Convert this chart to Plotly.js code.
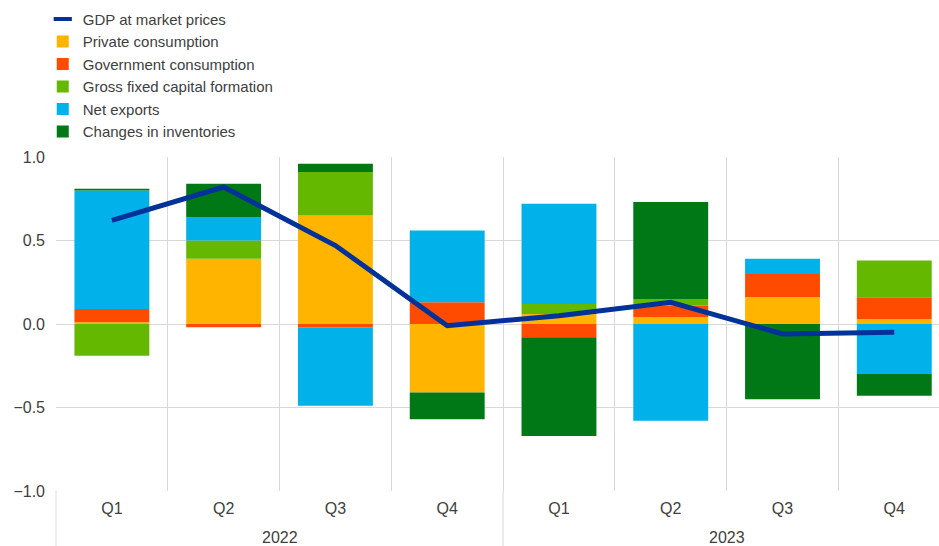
<!DOCTYPE html>
<html>
<head>
<meta charset="utf-8">
<script src="https://cdn.plot.ly/plotly-3.0.1.min.js"></script>
<style>
  html, body { margin: 0; padding: 0; background: #fff; }
  #plotArea { width: 939px; height: 546px; }
</style>
</head>
<body>
<div id="plotArea"></div>
<script>
// quarters and years for the x axis
var years = ["2022", "2022", "2022", "2022", "2023", "2023", "2023", "2023"];
var quarters = ["Q1", "Q2", "Q3", "Q4", "Q1", "Q2", "Q3", "Q4"];

// contributions, percentage points
var gdp = [0.62, 0.82, 0.47, -0.01, 0.05, 0.13, -0.06, -0.05];
var privateCons = [0.01, 0.39, 0.65, -0.41, 0.06, 0.04, 0.16, 0.03];
var govCons = [0.08, -0.02, -0.02, 0.13, -0.08, 0.07, 0.14, 0.13];
var gfcf = [-0.19, 0.11, 0.26, 0.0, 0.06, 0.04, 0.0, 0.22];
var netExports = [0.71, 0.14, -0.47, 0.43, 0.60, -0.58, 0.09, -0.30];
var inventories = [0.01, 0.20, 0.05, -0.16, -0.59, 0.58, -0.45, -0.13];

// one slot per quarter on a plain numeric axis
var idx = quarters.map(function(q, i) { return i; });
var xRange = [-0.5, 7.4];

// year groups: label in the middle, divider at the start of each group
var yearNames = [];
var yearStart = {};
var yearCount = {};
years.forEach(function(yr, i) {
    if (yearNames.indexOf(yr) < 0) {
        yearNames.push(yr);
        yearStart[yr] = i;
        yearCount[yr] = 0;
    }
    yearCount[yr]++;
});

var yearLabels = yearNames.map(function(yr) {
    return {
        x: yearStart[yr] + (yearCount[yr] - 1) / 2,
        xref: "x",
        y: 0,
        yref: "paper",
        yanchor: "top",
        yshift: -36,
        text: yr,
        showarrow: false,
        font: {size: 16, color: "#404040"}
    };
});

var dividers = yearNames.map(function(yr) {
    var bx = (yearStart[yr] - 0.5 - xRange[0]) / (xRange[1] - xRange[0]);
    return {
        type: "line",
        xref: "paper",
        yref: "paper",
        x0: bx,
        x1: bx,
        y0: 0,
        y1: -0.17,
        line: {color: "#d9d9d9", width: 1},
        layer: "below"
    };
});

function barTrace(name, values, color) {
    return {
        x: idx,
        y: values,
        name: name,
        type: "bar",
        marker: {color: color, line: {width: 0}},
        hoverinfo: "skip"
    };
}

// the line itself, drawn over the bars (legend entry is a short dash below)
var gdpLine = {
    x: idx,
    y: gdp,
    type: "scatter",
    mode: "lines",
    line: {color: "#003299", width: 5},
    showlegend: false,
    hoverinfo: "skip"
};
var gdpKey = {
    x: [null],
    y: [null],
    type: "scatter",
    mode: "markers",
    name: "GDP at market prices",
    marker: {symbol: "line-ew", size: 13, color: "#003299", line: {color: "#003299", width: 4}},
    hoverinfo: "skip"
};

var data = [
    gdpKey,
    barTrace("Private consumption", privateCons, "#FFB400"),
    barTrace("Government consumption", govCons, "#FF4B00"),
    barTrace("Gross fixed capital formation", gfcf, "#65B800"),
    barTrace("Net exports", netExports, "#00B1EA"),
    barTrace("Changes in inventories", inventories, "#007816"),
    gdpLine
];

var layout = {
    width: 939,
    height: 546,
    margin: {l: 56, r: 0, t: 157, b: 55},
    paper_bgcolor: "#ffffff",
    plot_bgcolor: "#ffffff",
    font: {family: "Liberation Sans, Arial, sans-serif", size: 16, color: "#404040"},
    barmode: "relative",
    bargap: 0.33,
    showlegend: true,
    legend: {
        x: -0.015,
        y: 1.462,
        xanchor: "left",
        yanchor: "top",
        traceorder: "normal",
        bgcolor: "rgba(0,0,0,0)",
        font: {size: 15, color: "#404040"}
    },
    xaxis: {
        range: xRange,
        tickvals: idx,
        ticktext: quarters,
        showgrid: false,
        zeroline: false,
        showline: false,
        ticks: "",
        ticklabelstandoff: 6,
        tickfont: {size: 16, color: "#404040"},
        minor: {
            tick0: -0.5,
            dtick: 1,
            showgrid: true,
            gridcolor: "#d9d9d9",
            gridwidth: 1,
            ticks: ""
        }
    },
    yaxis: {
        range: [-1, 1],
        dtick: 0.5,
        tickformat: ".1f",
        showgrid: true,
        gridcolor: "#d9d9d9",
        gridwidth: 1,
        zeroline: false,
        showline: false,
        ticks: "",
        ticklabelstandoff: 10,
        tickfont: {size: 16, color: "#404040"}
    },
    annotations: yearLabels,
    shapes: dividers
};

Plotly.newPlot("plotArea", data, layout, {displayModeBar: false, staticPlot: true});
</script>
</body>
</html>
